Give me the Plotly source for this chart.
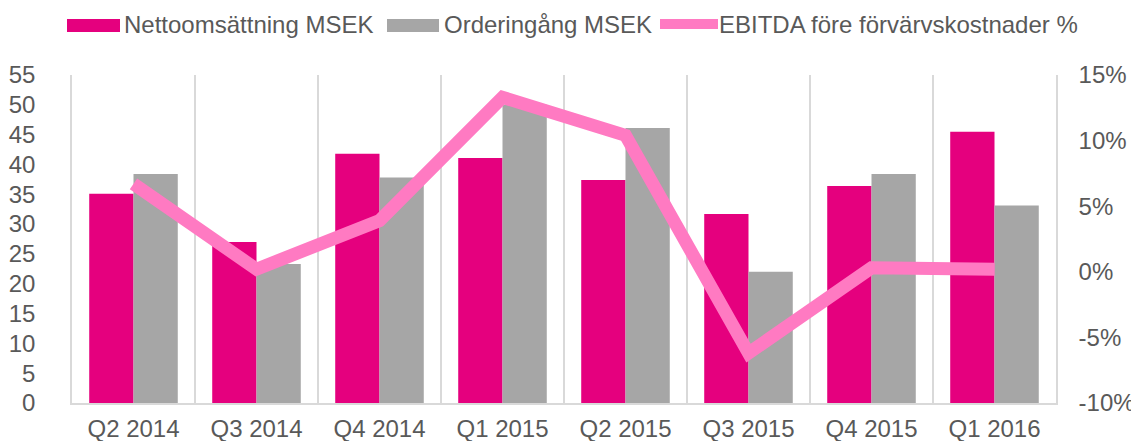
import plotly.graph_objects as go

categories = ["Q2 2014", "Q3 2014", "Q4 2014", "Q1 2015", "Q2 2015", "Q3 2015", "Q4 2015", "Q1 2016"]
nettoomsattning = [35.1, 27.0, 41.8, 41.1, 37.4, 31.7, 36.4, 45.5]
orderingang = [38.4, 23.3, 37.8, 50.0, 46.1, 22.0, 38.4, 33.1]
ebitda_pct = [6.7, 0.2, 3.9, 13.3, 10.4, -6.2, 0.3, 0.2]
series_names = ["Nettoomsättning MSEK", "Orderingång MSEK", "EBITDA före förvärvskostnader %"]
left_ticks = list(range(0, 56, 5))
right_ticks = [-10, -5, 0, 5, 10, 15]
right_ticktext = ["-10%", "-5%", "0%", "5%", "10%", "15%"]

C_MAG = "#E5007E"
C_GREY = "#A6A6A6"
C_PINK = "#FF7AC2"
C_TEXT = "#595959"
C_GRID = "#D9D9D9"
FONT = "Liberation Sans, Arial, sans-serif"
FS = 24

# page body has an 8px margin, so the figure is drawn 8px in from the window corner
OFF = 8
WIN_W, WIN_H = 1139, 441
W, H = WIN_W - OFF, WIN_H - OFF
# plot area in window pixels: x 72..1056, y 75..403
PL, PR, PT, PB = 72, 1056, 75, 403
L, T = PL - OFF, PT - OFF
R, B = W - (PR - OFF), H - (PB - OFF)
PW, PH = PR - PL, PB - PT


def px_x(p):
    return (p - PL) / PW


def px_y(p):
    return (PB - p) / PH


fig = go.Figure()
fig.add_trace(go.Bar(x=categories, y=nettoomsattning, name=series_names[0],
                     marker=dict(color=C_MAG, line=dict(width=0)), showlegend=False))
fig.add_trace(go.Bar(x=categories, y=orderingang, name=series_names[1],
                     marker=dict(color=C_GREY, line=dict(width=0)), showlegend=False))
fig.add_trace(go.Scatter(x=categories, y=ebitda_pct, name=series_names[2], yaxis="y2",
                         mode="lines", line=dict(color=C_PINK, width=13), showlegend=False))

# manual legend (wide swatches as in the reference)
shapes = [
    dict(type="rect", xref="paper", yref="paper", x0=px_x(67), x1=px_x(120), y0=px_y(32), y1=px_y(19),
         fillcolor=C_MAG, line=dict(width=0)),
    dict(type="rect", xref="paper", yref="paper", x0=px_x(387), x1=px_x(439), y0=px_y(32), y1=px_y(19),
         fillcolor=C_GREY, line=dict(width=0)),
    dict(type="line", xref="paper", yref="paper", x0=px_x(660), x1=px_x(718), y0=px_y(24), y1=px_y(24),
         line=dict(color=C_PINK, width=10)),
]
annotations = []
for name, xp in zip(series_names, [122, 442, 717]):
    annotations.append(dict(text=name, xref="paper", yref="paper", x=px_x(xp), y=px_y(24.5),
                            xanchor="left", yanchor="middle", showarrow=False,
                            font=dict(family=FONT, size=FS, color=C_TEXT)))

fig.update_layout(
    width=W, height=H,
    margin=dict(l=L, r=R, t=T, b=B, autoexpand=False),
    paper_bgcolor="white", plot_bgcolor="white",
    barmode="group", bargap=0.28, bargroupgap=0,
    font=dict(family=FONT, size=FS, color=C_TEXT),
    shapes=shapes, annotations=annotations,
    xaxis=dict(type="category", tickson="boundaries", showgrid=True, gridcolor=C_GRID, gridwidth=1.5,
               showline=True, linecolor=C_GRID, linewidth=2, ticks="", ticklabelstandoff=3,
               automargin=False, tickfont=dict(family=FONT, size=FS, color=C_TEXT)),
    yaxis=dict(range=[0, 55], tickvals=left_ticks, showgrid=False, zeroline=False, showline=True,
               linecolor=C_GRID, linewidth=1.5, automargin=False,
               ticks="", ticklabelstandoff=30, tickfont=dict(family=FONT, size=FS, color=C_TEXT)),
    yaxis2=dict(range=[-10, 15], tickvals=right_ticks, ticktext=right_ticktext, overlaying="y",
                side="right", showgrid=False, zeroline=False, showline=True, linecolor=C_GRID,
                linewidth=1.5, ticks="", automargin=False,
                ticklabelstandoff=16, tickfont=dict(family=FONT, size=FS, color=C_TEXT)),
)

fig.write_html("out.html")
